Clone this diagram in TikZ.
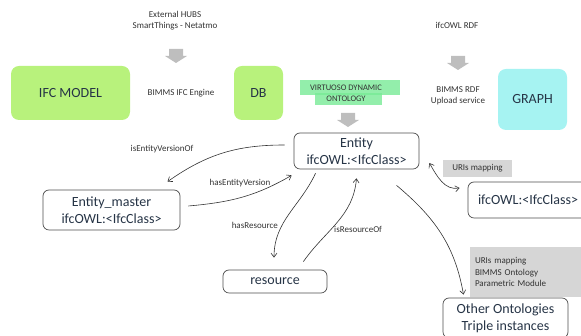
\documentclass[tikz,border=0pt]{standalone}
\usepackage{fontspec}
\setmainfont{Carlito}
\usetikzlibrary{arrows.meta}

\definecolor{modelgreen}{RGB}{184,242,124}
\definecolor{graphcyan}{RGB}{166,243,242}
\definecolor{markgreen}{RGB}{120,234,150}
\definecolor{notegray}{RGB}{214,214,214}
\definecolor{arrowgray}{RGB}{190,190,190}
\definecolor{boxtext}{RGB}{38,52,70}

\tikzset{
  bigbox/.style={rounded corners=8pt, text=boxtext, inner sep=0pt,
    font=\fontsize{14}{17}\selectfont},
  classbox/.style={draw=black!70, line width=0.7pt, rounded corners=6pt,
    text=boxtext, inner sep=0pt, align=center, font=\fontsize{14}{17}\selectfont},
  lbl/.style={text=black!80, inner sep=1pt, font=\fontsize{9}{11}\selectfont},
  note/.style={fill=notegray, text=black!80, inner sep=0pt,
    font=\fontsize{9}{11.5}\selectfont},
  link/.style={line width=0.6pt, black!80, -{Straight Barb[length=4pt,width=6pt]}},
  downarrow/.pic={\fill[arrowgray] (-7,7) -- (7,7) -- (7,0) -- (11,0) -- (0,-7)
    -- (-11,0) -- (-7,0) -- cycle;}
}

\begin{document}
\begin{tikzpicture}[x=1pt,y=1pt]
\clip (0,0) rectangle (581,336);

% top row
\node[lbl, align=center] (hubs) at (175,315) {External HUBS\\SmartThings - Netatmo};
\pic (hubsarrow) at (176,280) {downarrow};
\node[bigbox, fill=modelgreen, minimum width=119pt, minimum height=54pt] (ifc) at (70.5,243) {IFC MODEL};
\node[lbl] (engine) at (181,243) {BIMMS IFC Engine};
\node[bigbox, fill=modelgreen, minimum width=49pt, minimum height=54pt] (db) at (258.5,243) {DB};

\fill[markgreen, opacity=0.8] (300,241) rectangle (400,256);
\fill[markgreen, opacity=0.8] (315,231) rectangle (382,243);
\node[lbl, align=center, font=\fontsize{8.5}{11}\selectfont] (virtuoso) at (346,242.5) {VIRTUOSO DYNAMIC\\ONTOLOGY};
\pic (virtarrow) at (348,216) {downarrow};

\node[lbl] (rdf) at (457,311) {ifcOWL RDF};
\pic (rdfarrow) at (458,273) {downarrow};
\node[lbl, align=center] (upload) at (458,240) {BIMMS RDF\\Upload service};
\node[bigbox, fill=graphcyan, minimum width=69pt, minimum height=61pt] (graph) at (532.5,236.5) {GRAPH};

% ontology part
\node[classbox, minimum width=125pt, minimum height=36pt] (entity) at (356.5,185) {Entity\\ifcOWL:<IfcClass>};
\node[classbox, minimum width=137pt, minimum height=40pt] (master) at (111.5,126) {Entity\_master\\ifcOWL:<IfcClass>};
\node[classbox, text width=120pt, inner xsep=10pt, align=left, minimum height=36pt] (ifcclass) at (538,136) {ifcOWL:<IfcClass>};
\node[classbox, minimum width=104pt, minimum height=23pt] (resource) at (275,54.5) {resource};
\node[classbox, minimum width=125pt, minimum height=40pt] (other) at (505.5,18) {Other Ontologies\\Triple instances};

\node[note, minimum width=69pt, minimum height=17pt] (urimap) at (477.5,167.5) {URIs mapping};
\node[note, text width=105pt, inner xsep=5pt, minimum height=50pt, align=left] (modules) at (527.5,64) {URIs mapping\\BIMMS Ontology\\Parametric Module};

\draw[link] ([shift={(-9,6)}]entity.west) to[out=180,in=35] ([shift={(56,8)}]master.north);
\node[lbl] (versionof) at (162,187) {isEntityVersionOf};
\draw[link] ([shift={(8,4)}]master.east) to[out=5,in=210] ([shift={(-2,-6)}]entity.south west);
\node[lbl] (hasversion) at (240,153) {hasEntityVersion};
\draw[link] ([shift={(-41,-4)}]entity.south) to[out=245,in=90] ([shift={(-1,12)}]resource.north);
\node[lbl, anchor=east] (hasres) at (279,111) {hasResource};
\draw[link] ([shift={(-24,8)}]resource.north east) to[out=55,in=265] ([shift={(0,-9)}]entity.south);
\node[lbl, anchor=west] (resof) at (333,107) {isResourceOf};
\draw[link] ([shift={(40,-16)}]entity.south) to[out=-40,in=100] ([shift={(-42,3)}]other.north);
\draw[link, {Straight Barb[length=4pt,width=6pt]}-{Straight Barb[length=4pt,width=6pt]}] ([shift={(10,-12)}]entity.east) to[out=-60,in=190] ([shift={(-8,12)}]ifcclass.west);
\end{tikzpicture}
\end{document}
